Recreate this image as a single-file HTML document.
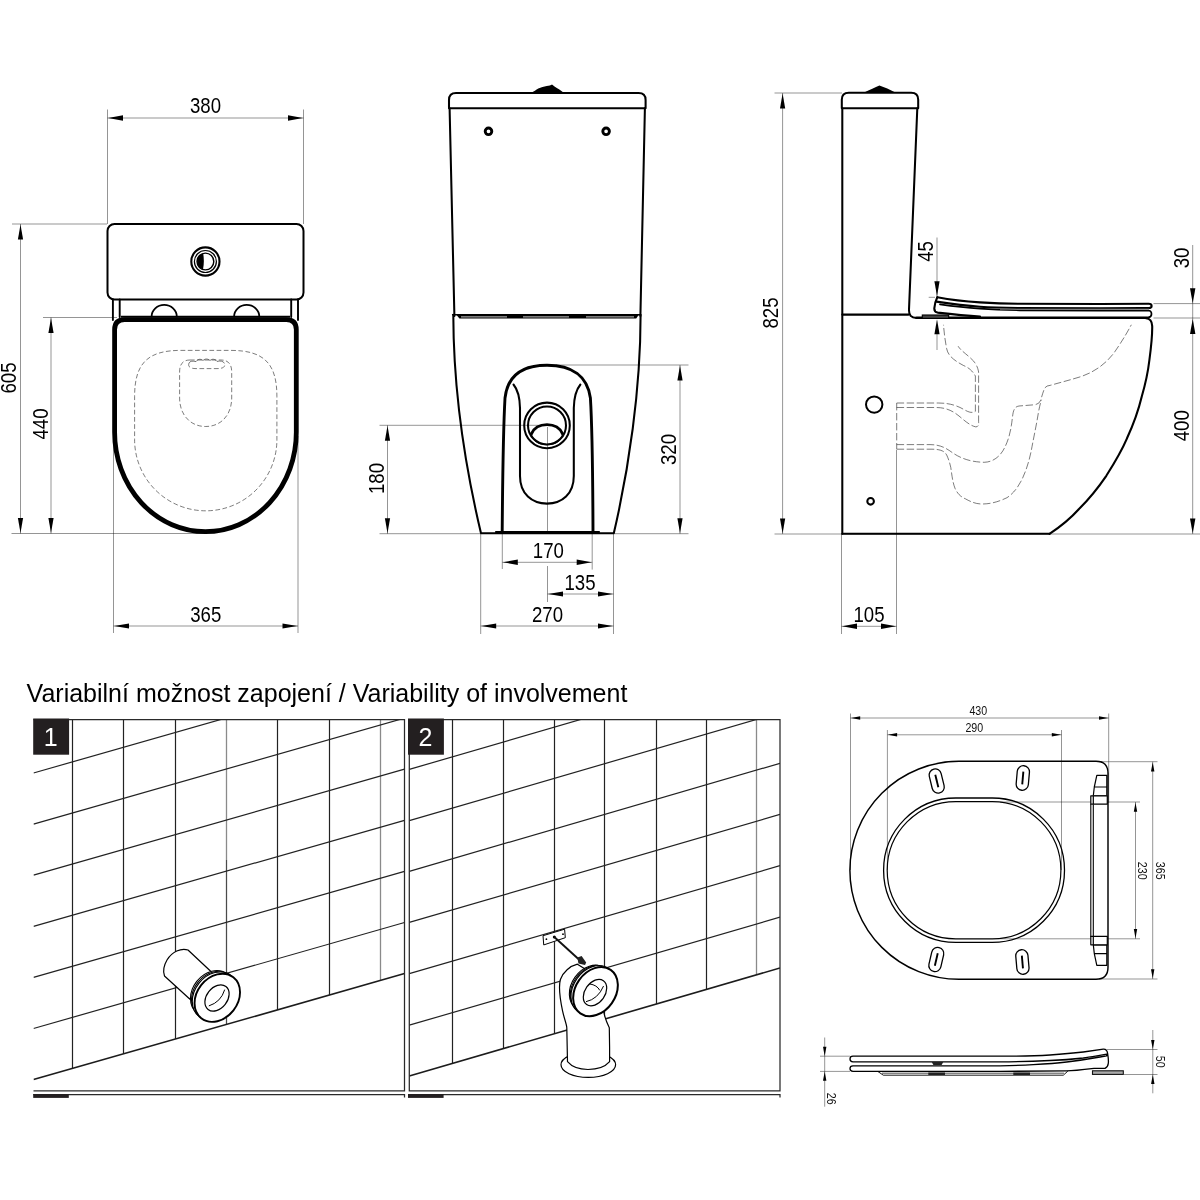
<!DOCTYPE html>
<html lang="cs">
<head>
<meta charset="utf-8">
<title>Variabilní možnost zapojení / Variability of involvement</title>
<style>
html,body{margin:0;padding:0;background:#fff;}
body{width:1200px;height:1200px;overflow:hidden;position:relative;font-family:"Liberation Sans",sans-serif;}
svg{position:absolute;left:0;top:0;display:block;will-change:transform;}
.t{stroke:#000;stroke-width:.42;fill:none;}
.m{stroke:#000;stroke-width:2.05;fill:none;stroke-linecap:round;stroke-linejoin:round;}
.k{stroke:#000;stroke-width:2.6;fill:none;stroke-linecap:round;stroke-linejoin:round;}
.n{stroke:#000;stroke-width:1.1;fill:none;stroke-linecap:round;stroke-linejoin:round;}
.h{stroke:#111;stroke-width:.55;fill:none;stroke-dasharray:4.7 2.5;}
.ar{fill:#000;stroke:none;}
.d{font-family:"Liberation Sans",sans-serif;font-size:23px;fill:#000;text-anchor:middle;}
.s{font-family:"Liberation Sans",sans-serif;font-size:13.5px;fill:#111;text-anchor:middle;}
.ttl{font-family:"Liberation Sans",sans-serif;font-size:25px;fill:#000;}
.lb{font-family:"Liberation Sans",sans-serif;font-size:25px;fill:#fff;text-anchor:middle;}
.g{stroke:#222;stroke-width:1.2;fill:none;}
.fr{stroke:#2a2a2a;stroke-width:1.25;fill:none;}
.gf{stroke:#1c1c1c;stroke-width:1.6;fill:none;}
.p{stroke:#000;stroke-width:1.2;fill:#fff;stroke-linejoin:round;stroke-linecap:round;}
</style>
</head>
<body>
<svg width="1200" height="1200" viewBox="0 0 1200 1200">
<rect x="0" y="0" width="1200" height="1200" fill="#fff"/>
<!-- plan view -->
<g id="plan">
<line class="t" x1="107.5" y1="109.5" x2="107.5" y2="224.0"/>
<line class="t" x1="303.5" y1="109.5" x2="303.5" y2="224.0"/>
<line class="t" x1="107.5" y1="118.0" x2="303.5" y2="118.0"/>
<polygon class="ar" points="108.0,118.0 123.0,115.3 123.0,120.7"/>
<polygon class="ar" points="303.0,118.0 288.0,115.3 288.0,120.7"/>
<text class="d" transform="translate(205.5,113.0) scale(0.810,1)">380</text>
<line class="t" x1="12.0" y1="224.0" x2="107.0" y2="224.0"/>
<line class="t" x1="11.5" y1="533.5" x2="206.0" y2="533.5"/>
<line class="t" x1="20.5" y1="224.0" x2="20.5" y2="533.5"/>
<polygon class="ar" points="20.5,224.5 17.9,239.5 23.1,239.5"/>
<polygon class="ar" points="20.5,533.0 17.9,518.0 23.1,518.0"/>
<text class="d" transform="translate(16.2,378.0) rotate(-90) scale(0.810,1)">605</text>
<line class="t" x1="43.0" y1="317.5" x2="117.0" y2="317.5"/>
<line class="t" x1="51.0" y1="317.5" x2="51.0" y2="533.5"/>
<polygon class="ar" points="51.0,318.0 48.4,333.0 53.6,333.0"/>
<polygon class="ar" points="51.0,533.0 48.4,518.0 53.6,518.0"/>
<text class="d" transform="translate(48.3,424.0) rotate(-90) scale(0.810,1)">440</text>
<line class="t" x1="113.5" y1="436.0" x2="113.5" y2="633.0"/>
<line class="t" x1="298.0" y1="436.0" x2="298.0" y2="633.0"/>
<line class="t" x1="113.5" y1="626.0" x2="298.0" y2="626.0"/>
<polygon class="ar" points="114.0,626.0 129.0,623.4 129.0,628.6"/>
<polygon class="ar" points="297.5,626.0 282.5,623.4 282.5,628.6"/>
<text class="d" transform="translate(205.7,621.5) scale(0.810,1)">365</text>
<rect class="m" style="stroke-width:2" x="107.5" y="224" width="196" height="75.5" rx="7" ry="7"/>
<circle class="m" style="stroke-width:2.1" cx="205.4" cy="261.5" r="14.1"/>
<circle class="n" style="stroke-width:1.2" cx="205.4" cy="261.5" r="11"/>
<circle class="n" style="stroke-width:1.4" cx="205.4" cy="261.5" r="8.4"/>
<path fill="#000" d="M203.2 253.6 A8.2 8.2 0 0 0 203 269.4 Q204.6 261.5 203.2 253.6Z"/>
<path class="m" style="stroke-width:1.9" d="M112.9 299.5V320 M119.7 299.5V317 M291.2 299.5V317 M298 299.5V320"/>
<path class="m" style="stroke-width:1.8" d="M151.6 316.5 A12.6 11.6 0 0 1 176.8 316.5 M234.1 316.5 A12.6 11.6 0 0 1 259.3 316.5"/>
<path fill="none" stroke="#000" stroke-width="4.8" stroke-linejoin="round" d="M124.6 319.6 H286.3 Q296.3 319.6 296.3 329.6 V432.3 A90.85 99.4 0 0 1 114.6 432.3 V329.6 Q114.6 319.6 124.6 319.6Z"/>
<path fill="none" stroke="#000" stroke-width="2" d="M121 316.7 H290"/>
<path class="h" d="M180.6 350.4 H230.8 C264 350.4 276.9 363.4 276.9 396.4 V439.7 A71.15 71.15 0 0 1 134.6 439.7 V396.4 C134.6 363.4 147.6 350.4 180.6 350.4Z"/>
<path class="h" d="M190 360 H221 C228 360 231.7 364 231.7 372 V398 C231.7 415 221 426.5 205.7 426.5 C190.5 426.5 179.6 415 179.6 398 V372 C179.6 364 183 360 190 360Z"/>
<path class="h" style="stroke-dasharray:none" d="M189 363 C190 360.8 193 361 196 361.6 C198 358.6 201 358.8 203 360.6 C205 358.4 208 358.6 210 360.6 C212 358.6 215 358.8 217 361.4 C220 360.8 223.4 360.8 224.4 363.4"/>
<path class="h" d="M189 363 C187.6 367 190.6 368.6 196 368.6 H217 C223 368.6 225.6 367 224.4 363.4"/>
</g>
<!-- front view -->
<g id="front">
<line class="t" x1="379.5" y1="425.3" x2="543.0" y2="425.3"/>
<line class="t" x1="379.5" y1="533.7" x2="481.0" y2="533.7"/>
<line class="t" x1="387.5" y1="425.3" x2="387.5" y2="533.7"/>
<polygon class="ar" points="387.5,425.8 384.9,440.8 390.1,440.8"/>
<polygon class="ar" points="387.5,533.2 384.9,518.2 390.1,518.2"/>
<text class="d" transform="translate(383.7,478.5) rotate(-90) scale(0.810,1)">180</text>
<line class="t" x1="556.0" y1="365.0" x2="688.5" y2="365.0"/>
<line class="t" x1="614.0" y1="533.7" x2="688.5" y2="533.7"/>
<line class="t" x1="680.0" y1="365.0" x2="680.0" y2="533.7"/>
<polygon class="ar" points="680.0,365.5 677.4,380.5 682.6,380.5"/>
<polygon class="ar" points="680.0,533.2 677.4,518.2 682.6,518.2"/>
<text class="d" transform="translate(676.0,449.5) rotate(-90) scale(0.810,1)">320</text>
<line class="t" x1="502.3" y1="534.0" x2="502.3" y2="569.0"/>
<line class="t" x1="592.2" y1="534.0" x2="592.2" y2="569.6"/>
<line class="t" x1="502.3" y1="562.3" x2="592.2" y2="562.3"/>
<polygon class="ar" points="502.8,562.3 517.8,559.6 517.8,564.9"/>
<polygon class="ar" points="591.7,562.3 576.7,559.6 576.7,564.9"/>
<text class="d" transform="translate(548.3,558.3) scale(0.810,1)">170</text>
<line class="t" x1="547.5" y1="427.0" x2="547.5" y2="533.0"/>
<line class="t" x1="547.5" y1="566.0" x2="547.5" y2="602.0"/>
<line class="t" x1="613.5" y1="534.0" x2="613.5" y2="634.0"/>
<line class="t" x1="547.5" y1="594.0" x2="613.5" y2="594.0"/>
<polygon class="ar" points="548.0,594.0 563.0,591.4 563.0,596.6"/>
<polygon class="ar" points="613.0,594.0 598.0,591.4 598.0,596.6"/>
<text class="d" transform="translate(580.0,589.5) scale(0.810,1)">135</text>
<line class="t" x1="480.7" y1="534.0" x2="480.7" y2="634.0"/>
<line class="t" x1="480.7" y1="626.0" x2="613.5" y2="626.0"/>
<polygon class="ar" points="481.2,626.0 496.2,623.4 496.2,628.6"/>
<polygon class="ar" points="613.0,626.0 598.0,623.4 598.0,628.6"/>
<text class="d" transform="translate(547.5,621.7) scale(0.810,1)">270</text>
<path class="m" d="M449 108.3 V100 Q449 93 456 93 H638.6 Q645.6 93 645.6 100 V108.3 Z"/>
<path fill="#000" d="M531 93 C534 91.6 536 90 538.3 88.6 C541 87.2 544 86.6 546.7 86 C549 85.6 551 85 552 84.4 C553.6 85.8 555.4 87.2 557.2 88.2 C559.6 89.6 562 91 564 93Z"/>
<path class="m" d="M449.6 108.2 L454.4 316 M644.9 108.2 L640.4 316"/>
<circle class="m" style="stroke-width:2.9" cx="488.5" cy="131.3" r="3.3"/>
<circle class="m" style="stroke-width:2.9" cx="606.1" cy="131.3" r="3.3"/>
<path class="m" style="stroke-width:1.4" d="M452.6 314.7 H640.5"/>
<path fill="#000" d="M456.6 315 H638.6 L636.2 318.4 H459.4Z"/>
<path stroke="#fff" stroke-width=".8" fill="none" d="M461 316.9 H507 M523 316.9 H569 M586 316.9 H634"/>
<path class="m" d="M453.3 314.7 C453.4 390 466 470 481 533.3 H613.8 C628.6 470 640.6 390 640.6 314.7"/>
<path class="k" style="stroke-width:2.9" d="M502.2 531 C502.6 480 503.2 430 505 398 C507.5 376 522 365.2 547 365.2 C572 365.2 587.5 376 590.4 398 C592.4 430 592.8 480 593 531"/>
<path class="m" style="stroke-width:2.2" d="M496 532 H599"/>
<path class="m" d="M513.5 384.5 C518 390 519.8 398 520 408 V476 C520 494 532 503.6 547 503.6 C562 503.6 573.8 494 573.8 476 V408 C574 398 576 390 580.4 384.5"/>
<circle class="m" cx="547" cy="425.4" r="22.8"/>
<circle class="m" cx="547" cy="425.4" r="19"/>
<path class="k" style="stroke-width:2.9" d="M531.4 433.8 C534 428 540 424.6 547 424.6 C554 424.6 560 428 562.6 433.8"/>
<path class="n" d="M531.4 433.8 C532 440 538 444.6 547 444.6 C556 444.6 562 440 562.6 433.8"/>
</g>
<!-- side view -->
<g id="side">
<line class="t" x1="774.5" y1="93.0" x2="842.0" y2="93.0"/>
<line class="t" x1="774.5" y1="534.0" x2="1200.0" y2="534.0"/>
<line class="t" x1="782.6" y1="93.0" x2="782.6" y2="534.0"/>
<polygon class="ar" points="782.6,93.5 780.0,108.5 785.2,108.5"/>
<polygon class="ar" points="782.6,533.5 780.0,518.5 785.2,518.5"/>
<text class="d" transform="translate(778.3,313.0) rotate(-90) scale(0.810,1)">825</text>
<line class="t" x1="937.0" y1="237.5" x2="937.0" y2="296.0"/>
<line class="t" x1="928.7" y1="297.3" x2="935.0" y2="297.3"/>
<polygon class="ar" points="937.0,296.3 934.4,281.3 939.6,281.3"/>
<polygon class="ar" points="937.0,319.2 934.4,334.2 939.6,334.2"/>
<line class="t" x1="937.0" y1="334.0" x2="937.0" y2="350.0"/>
<text class="d" transform="translate(933.3,251.4) rotate(-90) scale(0.810,1)">45</text>
<line class="t" x1="1153.5" y1="303.6" x2="1200.0" y2="303.6"/>
<line class="t" x1="1153.5" y1="318.0" x2="1200.0" y2="318.0"/>
<line class="t" x1="1192.7" y1="245.0" x2="1192.7" y2="534.0"/>
<polygon class="ar" points="1192.7,303.2 1190.0,288.2 1195.4,288.2"/>
<polygon class="ar" points="1192.7,319.0 1190.0,334.0 1195.4,334.0"/>
<polygon class="ar" points="1192.7,533.5 1190.0,518.5 1195.4,518.5"/>
<text class="d" transform="translate(1189.0,258.0) rotate(-90) scale(0.810,1)">30</text>
<text class="d" transform="translate(1189.0,425.8) rotate(-90) scale(0.810,1)">400</text>
<line class="t" x1="841.5" y1="534.0" x2="841.5" y2="634.0"/>
<line class="t" x1="896.5" y1="450.0" x2="896.5" y2="634.0"/>
<line class="t" x1="841.5" y1="626.3" x2="896.5" y2="626.3"/>
<polygon class="ar" points="842.0,626.3 857.0,623.6 857.0,628.9"/>
<polygon class="ar" points="896.0,626.3 881.0,623.6 881.0,628.9"/>
<text class="d" transform="translate(869.0,621.7) scale(0.810,1)">105</text>
<path class="m" d="M841.8 108.3 V99.8 Q841.8 92.8 848.8 92.8 H911.2 Q918.2 92.8 918.2 99.8 V108.3 Z"/>
<path fill="#000" d="M864 92.6 C870 89.6 875 87.4 879.4 85.4 C884.6 87.2 890 89.4 895.4 92.6Z"/>
<path class="m" d="M842.3 108.2 V533.8 M917.3 108.2 L909 309.5 Q908.6 318 916.5 318"/>
<path class="m" d="M842.3 314.6 H908.6"/>
<path class="m" style="stroke-width:2" d="M842.3 533.8 H1049.5"/>
<path class="m" style="stroke-width:2.1" d="M1049.5 533.8 C1060 527 1070 519 1079 509 C1090 498 1098 488 1106.3 475.8 C1115 462 1122 450 1127 438.3 C1134 423 1139 408 1141.7 396.7 C1146 382 1148 372 1149.4 360 C1151 348 1152.4 336 1152.2 326 C1152 321 1150 318.4 1146 318.2"/>
<path class="m" style="stroke-width:2.6" d="M916.5 317.8 H1147"/>
<rect x="922.3" y="315" width="26.4" height="3.4" fill="#444" stroke="#000" stroke-width="1.1"/>
<path class="m" style="stroke-width:2.1" d="M937.3 297.2 C950 299.6 965 301.4 980 302.4 C995 303.3 1008 303.7 1020 303.8 C1050 304.1 1080 304.1 1100 304 C1120 303.9 1140 303.8 1148.6 303.8 Q1151.6 303.8 1151.6 305.9 Q1151.6 308 1148.6 308 C1130 308.1 1110 308.2 1100 308.2 C1070 308.3 1040 308.2 1020 308 C1005 307.8 992 307.5 980 306.7 C965 305.6 950 303.6 936.4 301.6"/>
<path class="m" style="stroke-width:2.1" d="M937.3 297.2 C935.6 300.6 934.6 304.4 934.3 308.4 Q934.3 311.8 937.6 312.6 C950 314 965 315.6 980 316.6"/>
<path class="m" style="stroke-width:1.7" d="M940 304.3 C955 306.4 968 307.8 980 308.7 C992 309.6 1006 310.1 1020 310.3 C1050 310.6 1080 310.6 1100 310.6 C1125 310.6 1140 310.5 1148.2 310.5 Q1151.5 310.6 1151.5 314 Q1151.5 317.2 1148.2 317.4"/>
<path stroke="#777" stroke-width="1" fill="none" d="M1000 309.2 H1149"/>
<circle class="m" style="stroke-width:2" cx="874.2" cy="404.6" r="8.2"/>
<circle class="m" cx="870.6" cy="501.3" r="3.3"/>
<path class="h" style="stroke-dasharray:7.4 2.6" d="M896.7 403 V449.2"/>
<path class="h" style="stroke-dasharray:7.4 2.6" d="M896.7 403 H938.3 C950 403 958 406 964 409.6 C969 412.4 972 413.3 975.4 411.3 V376 C972 370 968 367.4 963.3 365.4 C955 361 948 356 946.7 348.8 C945 340 944 332 943.5 324.8"/>
<path class="h" style="stroke-dasharray:7.4 2.6" d="M896.7 407.5 H936 C946 407.5 953 411 959 416 C965 421 970 425.6 975.8 426.9 Q979 427 978.6 421.7 V372 C977.6 366 975 363 973.7 361.2 C968 355 961 351 958.1 346.2"/>
<path class="h" style="stroke-dasharray:7.4 2.6" d="M896.7 444.6 H930 C940 444.6 946 448 952 452.4 C960 458 970 462 984.2 462.3 C993 462 999 457 1002.9 450.8 C1007 444 1010 435 1011.3 425.8 C1012.6 418 1012.6 412 1014.4 409.2 Q1015.4 406.6 1019 406 L1034 404.8 Q1039 404.4 1040.4 400.8 C1042 396 1043 392 1044.6 388.3 Q1046 385.6 1050.8 385.2 C1062 382 1070 380 1080 376.9 C1098 371 1110 360 1118 347 C1124 338 1128 331 1131.3 324.8"/>
<path class="h" style="stroke-dasharray:7.4 2.6" d="M896.7 449.2 H932 C940 449.2 944.6 451 946.7 455 C949 460 950 464 950.8 467.5 C952 476 952.6 482 955 488.3 C957.6 494 961 497 965.4 498.8 C971 502 976 504 982 504 C992 504 1000 501 1007 497.7 C1014 493 1018 487 1021.7 480 C1027 469 1030 458 1032 446.7 C1034 436 1036.6 424 1038.3 413.3 C1039.4 407 1040.4 403 1041.5 399.8"/>
</g>
<text class="ttl" x="26.6" y="702.3">Variabilní možnost zapojení / Variability of involvement</text>
<g id="panel1">
<clipPath id="cp1"><rect x="33.5" y="719.5" width="371.0" height="371.4"/></clipPath>
<g clip-path="url(#cp1)">
<line class="g" x1="72.5" y1="719.5" x2="72.5" y2="1068.5"/>
<line class="g" x1="123.5" y1="719.5" x2="123.5" y2="1053.9"/>
<line class="g" x1="175.5" y1="719.5" x2="175.5" y2="1039.0"/>
<line x1="226.5" y1="719.5" x2="226.5" y2="860" stroke="#8a8a8a" stroke-width="1.3"/>
<line x1="226.5" y1="860" x2="226.5" y2="1024.5" stroke="#4a4a4a" stroke-width="1.25"/>
<line class="g" x1="277.5" y1="719.5" x2="277.5" y2="1009.9"/>
<line class="g" x1="329.5" y1="719.5" x2="329.5" y2="995.0"/>
<line x1="380.5" y1="719.5" x2="380.5" y2="980.5" stroke="#8a8a8a" stroke-width="1.3"/>
<line class="g" x1="33.5" y1="1028.5" x2="404.5" y2="922.5"/>
<line class="g" x1="33.5" y1="977.4" x2="404.5" y2="871.4"/>
<line class="g" x1="33.5" y1="926.3" x2="404.5" y2="820.3"/>
<line class="g" x1="33.5" y1="875.2" x2="404.5" y2="769.2"/>
<line class="g" x1="33.5" y1="824.1" x2="404.5" y2="718.1"/>
<line class="g" x1="33.5" y1="773.0" x2="404.5" y2="667.0"/>
<line class="gf" x1="33.5" y1="1079.6" x2="404.5" y2="973.6"/>
</g>
<path class="fr" d="M33.5 719.5 H404.5 V1090.9 H33.5"/>
<rect x="33.2" y="718.5" width="35.9" height="36.2" fill="#231f20"/>
<text class="lb" x="50.6" y="745.7">1</text>
<path class="fr" d="M33.2 1094.5 H404.5 V1097.6"/>
<rect x="33.2" y="1094.2" width="35.6" height="3.7" fill="#231f20"/>
</g>
<g id="panel2">
<clipPath id="cp2"><rect x="409.3" y="719.5" width="370.7" height="371.4"/></clipPath>
<g clip-path="url(#cp2)">
<line class="g" x1="452.5" y1="719.5" x2="452.5" y2="1063.4"/>
<line class="g" x1="503.5" y1="719.5" x2="503.5" y2="1048.6"/>
<line class="g" x1="554.5" y1="719.5" x2="554.5" y2="1033.7"/>
<line class="g" x1="604.5" y1="719.5" x2="604.5" y2="1019.1"/>
<line class="g" x1="656.5" y1="719.5" x2="656.5" y2="1004.0"/>
<line class="g" x1="706.5" y1="719.5" x2="706.5" y2="989.4"/>
<line x1="756.5" y1="719.5" x2="756.5" y2="974.8" stroke="#8a8a8a" stroke-width="1.3"/>
<line class="g" x1="409.3" y1="1025.2" x2="780.0" y2="917.2"/>
<line class="g" x1="409.3" y1="973.6" x2="780.0" y2="865.6"/>
<line class="g" x1="409.3" y1="922.4" x2="780.0" y2="814.4"/>
<line class="g" x1="409.3" y1="871.3" x2="780.0" y2="763.3"/>
<line class="g" x1="409.3" y1="820.6" x2="780.0" y2="712.6"/>
<line class="g" x1="409.3" y1="769.4" x2="780.0" y2="661.4"/>
<line class="gf" x1="409.3" y1="1076.0" x2="780.0" y2="968.0"/>
</g>
<path class="fr" d="M409.3 719.5 H780.0 V1090.9 H409.3 Z"/>
<rect x="408.0" y="718.5" width="35.9" height="36.2" fill="#231f20"/>
<text class="lb" x="425.4" y="745.7">2</text>
<path class="fr" d="M408.0 1094.5 H780.0 V1097.6"/>
<rect x="408.0" y="1094.2" width="35.6" height="3.7" fill="#231f20"/>
</g>
<g id="pipe1">
<path class="p" d="M212 972.5 L188 950 C181 947.5 172 952 167 960 C163.5 966 163 972 164.5 976 L189.7 999 Z"/>
<ellipse class="p" style="stroke-width:1.1" cx="211.7" cy="993.1" rx="24.4" ry="19.0" transform="rotate(-52 211.7 993.1)"/>
<ellipse class="p" style="stroke-width:1.1" cx="213.3" cy="994.4" rx="25.0" ry="19.6" transform="rotate(-52 213.3 994.4)"/>
<ellipse class="p" style="stroke-width:1.2" cx="215.0" cy="995.9" rx="26.0" ry="20.5" transform="rotate(-52 215.0 995.9)"/>
<ellipse class="p" style="stroke-width:1.9" cx="217.3" cy="997.8" rx="26.0" ry="20.5" transform="rotate(-52 217.3 997.8)"/>
<ellipse class="p" cx="217" cy="998" rx="14.5" ry="10.4" transform="rotate(-52 217 998)"/>
<path class="p" style="fill:none;stroke-width:1" d="M209.2 1005.8 Q221 1002 224.6 990"/>
</g>
<g id="pipe2">
<ellipse class="p" cx="588.3" cy="1064.8" rx="27.3" ry="12.6"/>
<path class="p" d="M590 972 L577.4 964.2 C570 966 563 972 560.4 979.5 C558.6 986 559 994 562.5 1010.7 C564 1018 566.6 1024 566.8 1027.7 L567.5 1061.7 C572 1067 580 1069.5 588 1069.5 C597 1069.5 605 1067 609.6 1061.7 L609.6 1047.5 L609.3 1027.7 C607 1023 604.6 1018 603.6 1011 Z"/>
<path class="p" style="stroke-width:1" d="M543.4 935.6 L564.6 929.2 L565.3 937.7 L544.1 944.8Z"/>
<circle cx="546.4" cy="939.2" r=".9" fill="#000"/><circle cx="563" cy="934.2" r=".9" fill="#000"/><circle cx="554.3" cy="937" r="1.5" fill="#000"/>
<path stroke="#111" stroke-width="1.9" fill="none" d="M554.3 937 L582 962.2"/>
<path fill="#222" d="M577.4 957.6 L581.6 956 L586.2 962.6 L585 965 L578.4 963.6 Z"/>
<ellipse class="p" style="stroke-width:1.1" cx="590.1" cy="988.0" rx="24.6" ry="18.6" transform="rotate(-55 590.1 988.0)"/>
<ellipse class="p" style="stroke-width:1.1" cx="591.7" cy="989.0" rx="25.4" ry="19.2" transform="rotate(-55 591.7 989.0)"/>
<ellipse class="p" style="stroke-width:1.2" cx="593.3" cy="990.1" rx="26.5" ry="20.0" transform="rotate(-55 593.3 990.1)"/>
<ellipse class="p" style="stroke-width:2.0" cx="595.5" cy="991.6" rx="26.5" ry="20.0" transform="rotate(-55 595.5 991.6)"/>
<ellipse class="p" cx="595" cy="992.6" rx="14.6" ry="10" transform="rotate(-55 595 992.6)"/>
<path class="p" style="fill:none;stroke-width:1" d="M586.4 1001.6 Q598 999 603.4 986.4 M590 984 Q597 985 599.6 990"/>
</g>
<g id="seat">
<line class="t" x1="850.5" y1="713.5" x2="850.5" y2="870.0"/>
<line class="t" x1="1108.7" y1="713.5" x2="1108.7" y2="803.0"/>
<line class="t" x1="850.5" y1="718.0" x2="1108.7" y2="718.0"/>
<polygon class="ar" points="851.0,718.0 860.2,716.3 860.2,719.7"/>
<polygon class="ar" points="1108.2,718.0 1099.0,716.3 1099.0,719.7"/>
<text class="s" transform="translate(978.3,715.0) scale(0.790,1)">430</text>
<line class="t" x1="887.4" y1="730.0" x2="887.4" y2="870.0"/>
<line class="t" x1="1061.5" y1="730.0" x2="1061.5" y2="870.0"/>
<line class="t" x1="887.4" y1="734.8" x2="1061.5" y2="734.8"/>
<polygon class="ar" points="887.9,734.8 897.1,733.1 897.1,736.5"/>
<polygon class="ar" points="1061.0,734.8 1051.8,733.1 1051.8,736.5"/>
<text class="s" transform="translate(974.3,731.8) scale(0.790,1)">290</text>
<line class="t" x1="1099.0" y1="761.7" x2="1157.5" y2="761.7"/>
<line class="t" x1="1099.0" y1="979.0" x2="1157.5" y2="979.0"/>
<line class="t" x1="1152.7" y1="761.7" x2="1152.7" y2="979.0"/>
<polygon class="ar" points="1152.7,762.2 1151.0,771.4 1154.4,771.4"/>
<polygon class="ar" points="1152.7,978.5 1151.0,969.3 1154.4,969.3"/>
<text class="s" transform="translate(1156.0,870.7) rotate(90) scale(0.790,1)">365</text>
<line class="t" x1="1000.0" y1="802.0" x2="1140.0" y2="802.0"/>
<line class="t" x1="1000.0" y1="938.8" x2="1140.0" y2="938.8"/>
<line class="t" x1="1135.5" y1="802.0" x2="1135.5" y2="938.8"/>
<polygon class="ar" points="1135.5,802.5 1133.8,811.7 1137.2,811.7"/>
<polygon class="ar" points="1135.5,938.3 1133.8,929.1 1137.2,929.1"/>
<text class="s" transform="translate(1138.2,870.7) rotate(90) scale(0.790,1)">230</text>
<path class="n" style="stroke-width:1.45" d="M958.9 761.3 H1096 Q1108 761.3 1108 773.3 V967.3 Q1108 979.3 1096 979.3 H958.9 A109 109 0 0 1 958.9 761.3Z"/>
<path class="n" style="stroke-width:1.3" d="M955.8 798 H992.3 A72.2 72.2 0 0 1 992.3 942.4 H955.8 A72.2 72.2 0 0 1 955.8 798Z"/>
<path class="n" style="stroke-width:1.2" d="M955.8 801.6 H992.3 A68.6 68.6 0 0 1 992.3 938.8 H955.8 A68.6 68.6 0 0 1 955.8 801.6Z"/>
<g transform="rotate(-13.7 936.8 781.0)"><rect class="n" style="stroke-width:1.3" x="930.6" y="768.7" width="12.2" height="24.6" rx="6.1" ry="6.1"/><line x1="936.8" y1="774.6" x2="936.8" y2="787.4" stroke="#000" stroke-width="1.9"/></g>
<g transform="rotate(5.0 1022.8 778.0)"><rect class="n" style="stroke-width:1.3" x="1016.7" y="765.7" width="12.2" height="24.6" rx="6.1" ry="6.1"/><line x1="1022.8" y1="771.6" x2="1022.8" y2="784.4" stroke="#000" stroke-width="1.9"/></g>
<g transform="rotate(13.0 936.3 959.5)"><rect class="n" style="stroke-width:1.3" x="930.2" y="947.2" width="12.2" height="24.6" rx="6.1" ry="6.1"/><line x1="936.3" y1="953.1" x2="936.3" y2="965.9" stroke="#000" stroke-width="1.9"/></g>
<g transform="rotate(-5.0 1022.4 962.0)"><rect class="n" style="stroke-width:1.3" x="1016.3" y="949.7" width="12.2" height="24.6" rx="6.1" ry="6.1"/><line x1="1022.4" y1="955.6" x2="1022.4" y2="968.4" stroke="#000" stroke-width="1.9"/></g>
<path class="n" style="stroke-width:1.1" d="M1090.8 804.2 V936.4 M1093.3 804.2 V936.4"/>
<path class="n" style="stroke-width:1.2;fill:#fff" d="M1096.8 775.3 H1106.8 V795.8 H1093.3 L1094.3 787.0 Z M1094.3 787.0 H1106.8"/>
<path class="n" style="stroke-width:1.2;fill:#fff" d="M1090.8 795.8 H1107.3 V804.2 H1090.8Z M1093.3 795.8 V804.2"/>
<path class="n" style="stroke-width:1.2;fill:#fff" d="M1096.8 965.3 H1106.8 V944.8 H1093.3 L1094.3 953.6 Z M1094.3 953.6 H1106.8"/>
<path class="n" style="stroke-width:1.2;fill:#fff" d="M1090.8 944.8 H1107.3 V936.4 H1090.8Z M1093.3 944.8 V936.4"/>
</g>
<g id="seatside">
<line class="t" x1="820.0" y1="1056.2" x2="850.0" y2="1056.2"/>
<line class="t" x1="820.0" y1="1071.4" x2="850.0" y2="1071.4"/>
<line class="t" x1="824.7" y1="1037.5" x2="824.7" y2="1106.7"/>
<polygon class="ar" points="824.7,1056.0 823.0,1046.8 826.4,1046.8"/>
<polygon class="ar" points="824.7,1071.6 823.0,1080.8 826.4,1080.8"/>
<text class="s" transform="translate(827.0,1098.8) rotate(90) scale(0.790,1)">26</text>
<line class="t" x1="1106.7" y1="1049.5" x2="1157.5" y2="1049.5"/>
<line class="t" x1="1124.0" y1="1074.5" x2="1157.5" y2="1074.5"/>
<line class="t" x1="1152.8" y1="1030.0" x2="1152.8" y2="1093.3"/>
<polygon class="ar" points="1152.8,1049.3 1151.1,1040.1 1154.5,1040.1"/>
<polygon class="ar" points="1152.8,1074.7 1151.1,1083.9 1154.5,1083.9"/>
<text class="s" transform="translate(1155.6,1061.8) rotate(90) scale(0.790,1)">50</text>
<path class="n" style="stroke-width:1.3;fill:#fff" d="M853 1056.2 H1000 C1020 1056.2 1040 1055.6 1050 1055 C1065 1054 1075 1053 1083.3 1052 C1092 1050.8 1098 1050 1103.3 1049.2 Q1107 1049 1107.6 1053.3 C1108.4 1058 1108.6 1061 1108.3 1063.3 Q1108 1067 1105 1068.3 L1094 1068.3 C1080 1070 1070 1070.8 1066.7 1070.8 L1000 1071.4 H853 Q850 1071.4 850 1068.6 Q850 1065.8 853 1065.8 H1000 C1015 1065.6 1025 1065.2 1033.3 1064.7 C1045 1064 1058 1063 1066.7 1062 C1080 1060.4 1090 1058.8 1100 1057 L1106.7 1055.8 L1106.7 1054.2 C1098 1055.6 1090 1057 1083.3 1058 C1070 1059.6 1060 1060.2 1050 1060.5 C1030 1061.4 1015 1061.7 1000 1061.8 H853 Q850 1061.8 850 1059 Q850 1056.2 853 1056.2Z"/>
<path class="n" style="stroke-width:.9" d="M878.3 1071.8 L883.3 1075.2 H1063.3 L1067.5 1071.5"/>
<path class="t" style="stroke-width:.7" d="M882 1073.2 H1064"/>
<path fill="#222" d="M931.7 1062 H943.3 L941.6 1065 H933.4Z M928.3 1072.4 H945 V1075 H928.3Z M1013.3 1072.4 H1030 V1075 H1013.3Z"/>
<rect x="1092.5" y="1070.8" width="30.8" height="3.6" fill="#aaa" stroke="#111" stroke-width="1.1"/>
</g>
</svg>
</body>
</html>
